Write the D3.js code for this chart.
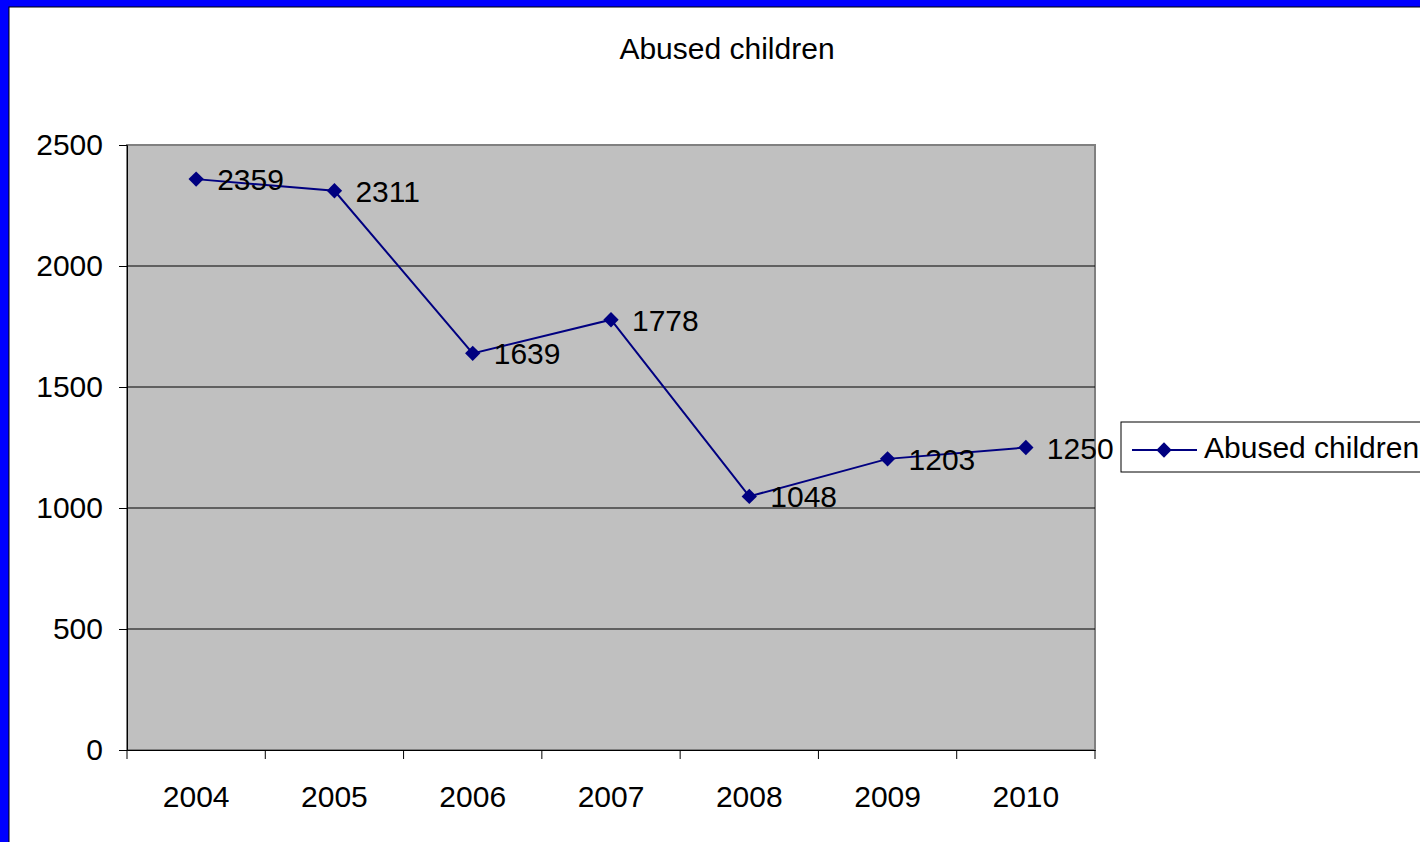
<!DOCTYPE html>
<html>
<head>
<meta charset="utf-8">
<script src="https://cdn.jsdelivr.net/npm/d3@7"></script>
<style>
  body { margin: 0; background: #fff; }
  svg { display: block; font-family: "Liberation Sans", Arial, sans-serif; }
</style>
</head>
<body>
<svg id="chart" width="1420" height="842"></svg>
<script>
const years = ['2004', '2005', '2006', '2007', '2008', '2009', '2010']
const abused = [2359, 2311, 1639, 1778, 1048, 1203, 1250]
const yTicks = [0, 500, 1000, 1500, 2000, 2500]
const seriesName = 'Abused children'

const fontSize = 30
const svg = d3.select('#chart')

// blue frame
svg.append('rect').attr('x', 0).attr('y', 0).attr('width', 1420).attr('height', 842).attr('fill', '#0000ff')
svg.append('rect').attr('x', 9).attr('y', 7).attr('width', 1420).attr('height', 842)
  .attr('fill', '#fff').attr('stroke', '#000').attr('stroke-width', 1)

const margin = {top: 145, left: 127}
const width = 968, height = 605

const g = svg.append('g').attr('transform', 'translate(' + margin.left + ',' + margin.top + ')')

const x = d3.scaleBand().domain(years).range([0, width])
const y = d3.scaleLinear().domain([0, 2500]).range([height, 0])

g.append('rect').attr('width', width).attr('height', height)
  .attr('fill', '#c0c0c0').attr('stroke', '#808080').attr('stroke-width', 2)

g.selectAll('.grid').data(yTicks.filter(d => d > 0 && d < 2500)).enter()
  .append('line')
  .attr('x1', 0).attr('x2', width)
  .attr('y1', d => y(d)).attr('y2', d => y(d))
  .attr('stroke', '#000').attr('stroke-width', 1)

// y axis
const yAxis = g.append('g')
  .call(d3.axisLeft(y).tickValues(yTicks).tickFormat(d3.format('d')).tickSize(8).tickPadding(16))
yAxis.select('.domain').attr('stroke', '#000')
yAxis.selectAll('text').attr('font-size', fontSize).attr('fill', '#000')
  .attr('font-family', '"Liberation Sans", Arial, sans-serif')

// x axis
const xAxis = g.append('g').attr('transform', 'translate(0,' + height + ')')
  .call(d3.axisBottom(x).tickSize(0).tickPadding(36))
xAxis.select('.domain').attr('stroke', '#000')
xAxis.selectAll('text').attr('font-size', fontSize).attr('fill', '#000')
  .attr('font-family', '"Liberation Sans", Arial, sans-serif')
g.selectAll('.xtick').data(d3.range(years.length + 1)).enter()
  .append('line')
  .attr('x1', i => i * x.step()).attr('x2', i => i * x.step())
  .attr('y1', height).attr('y2', height + 9)
  .attr('stroke', '#000')

const cx = d => x(d) + x.bandwidth() / 2
const data = years.map((yr, i) => ({year: yr, value: abused[i]}))

const line = d3.line().x(d => cx(d.year)).y(d => y(d.value))
g.append('path').datum(data).attr('d', line)
  .attr('fill', 'none').attr('stroke', '#000080').attr('stroke-width', 2)

const diamond = d3.symbol().type(d3.symbolDiamond2).size(150)
g.selectAll('.pt').data(data).enter()
  .append('path')
  .attr('d', diamond)
  .attr('transform', d => 'translate(' + cx(d.year) + ',' + y(d.value) + ')')
  .attr('fill', '#000080')

g.selectAll('.lbl').data(data).enter()
  .append('text')
  .attr('x', d => cx(d.year) + 21)
  .attr('y', d => y(d.value) + 11)
  .attr('font-size', fontSize)
  .attr('fill', '#000')
  .text(d => d.value)

// title
svg.append('text').attr('x', 727).attr('y', 59).attr('text-anchor', 'middle')
  .attr('font-size', fontSize).attr('fill', '#000').text(seriesName)

// legend
const lg = svg.append('g').attr('transform', 'translate(1121,422)')
lg.append('rect').attr('width', 320).attr('height', 50).attr('fill', '#fff').attr('stroke', '#000')
lg.append('line').attr('x1', 11).attr('x2', 76).attr('y1', 28).attr('y2', 28)
  .attr('stroke', '#000080').attr('stroke-width', 2)
lg.append('path').attr('d', diamond).attr('transform', 'translate(43,28)').attr('fill', '#000080')
lg.append('text').attr('x', 83).attr('y', 36).attr('font-size', fontSize).attr('fill', '#000').text(seriesName)
</script>
</body>
</html>
